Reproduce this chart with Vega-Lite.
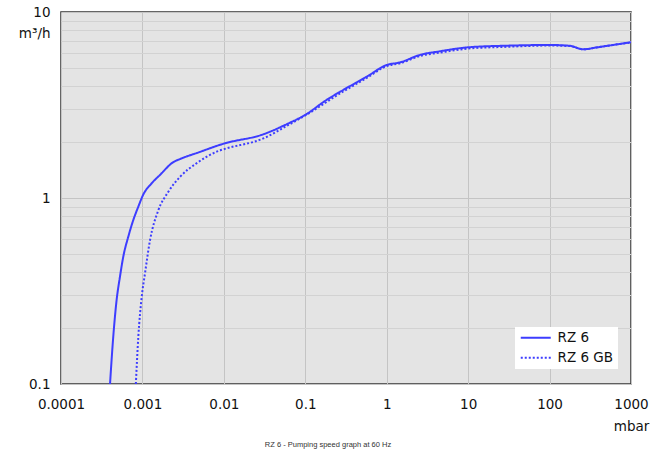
{
  "$schema": "https://vega.github.io/schema/vega-lite/v6.json",
  "autosize": {"type": "none"},
  "width": 570,
  "height": 372,
  "padding": {"left": 61, "top": 12, "right": 30, "bottom": 72},
  "background": "white",
  "title": {"text": "RZ 6 - Pumping speed graph at 60 Hz", "orient": "bottom", "anchor": "middle", "fontSize": 7.5, "font": "Liberation Sans", "fontWeight": "normal", "color": "#333333", "offset": 8, "dx": -18},
  "config": {
    "view": {"fill": "#e4e4e4", "stroke": "#333333", "strokeWidth": 1.5},
    "axis": {"labelFont": "DejaVu Sans", "titleFont": "DejaVu Sans", "labelColor": "#111111", "titleColor": "#111111", "domain": false, "ticks": false, "gridColor": "#c9c9c9", "gridWidth": 1}
  },
  "data": {"values": [
    {"series": "RZ 6", "p": 0.0004, "s": 0.1},
    {"series": "RZ 6", "p": 0.000438, "s": 0.179},
    {"series": "RZ 6", "p": 0.000482, "s": 0.283},
    {"series": "RZ 6", "p": 0.00053, "s": 0.378},
    {"series": "RZ 6", "p": 0.000582, "s": 0.484},
    {"series": "RZ 6", "p": 0.00067, "s": 0.619},
    {"series": "RZ 6", "p": 0.000773, "s": 0.762},
    {"series": "RZ 6", "p": 0.00089, "s": 0.898},
    {"series": "RZ 6", "p": 0.00102, "s": 1.04},
    {"series": "RZ 6", "p": 0.0013, "s": 1.2},
    {"series": "RZ 6", "p": 0.00164, "s": 1.33},
    {"series": "RZ 6", "p": 0.0024, "s": 1.56},
    {"series": "RZ 6", "p": 0.0029, "s": 1.62},
    {"series": "RZ 6", "p": 0.0051, "s": 1.77},
    {"series": "RZ 6", "p": 0.0086, "s": 1.92},
    {"series": "RZ 6", "p": 0.01, "s": 1.96},
    {"series": "RZ 6", "p": 0.0305, "s": 2.2},
    {"series": "RZ 6", "p": 0.06, "s": 2.5},
    {"series": "RZ 6", "p": 0.1, "s": 2.8},
    {"series": "RZ 6", "p": 0.183, "s": 3.37},
    {"series": "RZ 6", "p": 0.293, "s": 3.81},
    {"series": "RZ 6", "p": 0.568, "s": 4.49},
    {"series": "RZ 6", "p": 1.0, "s": 5.19},
    {"series": "RZ 6", "p": 1.46, "s": 5.36},
    {"series": "RZ 6", "p": 2.56, "s": 5.88},
    {"series": "RZ 6", "p": 4.5, "s": 6.15},
    {"series": "RZ 6", "p": 10, "s": 6.46},
    {"series": "RZ 6", "p": 30, "s": 6.59},
    {"series": "RZ 6", "p": 100, "s": 6.65},
    {"series": "RZ 6", "p": 178, "s": 6.58},
    {"series": "RZ 6", "p": 259, "s": 6.3},
    {"series": "RZ 6", "p": 378, "s": 6.45},
    {"series": "RZ 6", "p": 604, "s": 6.65},
    {"series": "RZ 6", "p": 1000, "s": 6.88},
    {"series": "RZ 6 GB", "p": 0.00083, "s": 0.1},
    {"series": "RZ 6 GB", "p": 0.00089, "s": 0.179},
    {"series": "RZ 6 GB", "p": 0.00098, "s": 0.294},
    {"series": "RZ 6 GB", "p": 0.001076, "s": 0.394},
    {"series": "RZ 6 GB", "p": 0.00124, "s": 0.594},
    {"series": "RZ 6 GB", "p": 0.00157, "s": 0.86},
    {"series": "RZ 6 GB", "p": 0.00208, "s": 1.08},
    {"series": "RZ 6 GB", "p": 0.0029, "s": 1.3},
    {"series": "RZ 6 GB", "p": 0.00465, "s": 1.54},
    {"series": "RZ 6 GB", "p": 0.0086, "s": 1.79},
    {"series": "RZ 6 GB", "p": 0.01, "s": 1.83},
    {"series": "RZ 6 GB", "p": 0.0305, "s": 2.09},
    {"series": "RZ 6 GB", "p": 0.06, "s": 2.45},
    {"series": "RZ 6 GB", "p": 0.1, "s": 2.78},
    {"series": "RZ 6 GB", "p": 0.293, "s": 3.74},
    {"series": "RZ 6 GB", "p": 0.568, "s": 4.42},
    {"series": "RZ 6 GB", "p": 1.0, "s": 5.12},
    {"series": "RZ 6 GB", "p": 1.46, "s": 5.3},
    {"series": "RZ 6 GB", "p": 2.56, "s": 5.8},
    {"series": "RZ 6 GB", "p": 4.5, "s": 6.05},
    {"series": "RZ 6 GB", "p": 10, "s": 6.36},
    {"series": "RZ 6 GB", "p": 30, "s": 6.5},
    {"series": "RZ 6 GB", "p": 100, "s": 6.6},
    {"series": "RZ 6 GB", "p": 178, "s": 6.56},
    {"series": "RZ 6 GB", "p": 259, "s": 6.3},
    {"series": "RZ 6 GB", "p": 378, "s": 6.45},
    {"series": "RZ 6 GB", "p": 604, "s": 6.65},
    {"series": "RZ 6 GB", "p": 1000, "s": 6.86}
  ]},
  "mark": {"type": "line", "color": "#3d3dff", "strokeWidth": 2, "clip": true, "interpolate": "monotone"},
  "encoding": {
    "x": {"field": "p", "type": "quantitative", "scale": {"type": "log", "domain": [0.0001, 1000], "nice": false},
      "axis": {"values": [0.0001, 0.001, 0.01, 0.1, 1, 10, 100, 1000], "format": "~g", "labelFontSize": 13.5, "labelPadding": 13, "labelFlush": false, "labelOverlap": false,
        "title": "mbar", "titleFontSize": 13.5, "titleFontWeight": "normal", "titleX": 570, "titleY": 42, "titleAlign": "center", "titleBaseline": "middle", "gridColor": "#c4c4c4"}},
    "y": {"field": "s", "type": "quantitative", "scale": {"type": "log", "domain": [0.1, 10], "nice": false},
      "axis": {"values": [0.1, 0.2, 0.3, 0.4, 0.5, 0.6, 0.7, 0.8, 0.9, 1, 2, 3, 4, 5, 6, 7, 8, 9, 10], "format": "~g",
        "labelExpr": "(datum.value == 0.1 || datum.value == 1 || datum.value == 10) ? datum.label : ''",
        "labelFontSize": 13.5, "labelPadding": 11, "labelFlush": false, "labelOverlap": false,
        "gridColor": {"condition": {"test": "datum.value == 1 || datum.value == 0.1 || datum.value == 10", "value": "#c4c4c4"}, "value": "#d2d2d2"},
        "title": "m³/h", "titleAngle": 0, "titleFontSize": 13.5, "titleFontWeight": "normal", "titleX": -11, "titleY": 21, "titleAlign": "right", "titleBaseline": "middle"}},
    "strokeDash": {"field": "series", "type": "nominal", "scale": {"domain": ["RZ 6", "RZ 6 GB"], "range": [[1, 0], [2, 2]]},
      "legend": {"title": null, "orient": "none", "legendX": 454, "legendY": 315, "fillColor": "white", "padding": 4, "symbolType": "M-1,0H5", "symbolSize": 100, "symbolStrokeWidth": 2, "symbolStrokeColor": "#3d3dff", "symbolFillColor": "transparent", "labelFontSize": 13.5, "labelFont": "DejaVu Sans", "labelColor": "#111111", "rowPadding": 5, "labelOffset": 25}}
  }
}
